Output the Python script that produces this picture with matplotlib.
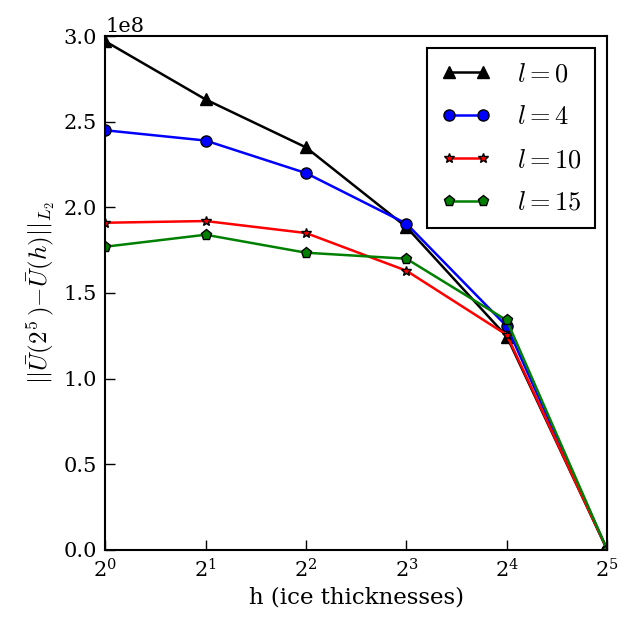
import numpy as np
import matplotlib
matplotlib.use("Agg")
import matplotlib.pyplot as plt

plt.rcParams['font.family'] = 'DejaVu Serif'
plt.rcParams['mathtext.fontset'] = 'cm'

# ice thicknesses
h = [1, 2, 4, 8, 16, 32]

# L2 error norms (x 1e8)
err_l0 = [2.97, 2.63, 2.35, 1.885, 1.245, 0.0]
err_l4 = [2.45, 2.39, 2.20, 1.905, 1.305, 0.0]
err_l10 = [1.91, 1.92, 1.85, 1.63, 1.255, 0.0]
err_l15 = [1.77, 1.84, 1.735, 1.70, 1.34, 0.0]
labels = ['$l=0$', '$l=4$', '$l=10$', '$l=15$']

fig = plt.figure(figsize=(6.26, 6.22), dpi=100)
ax = fig.add_axes([0.168, 0.116, 0.802, 0.826])

scale = 1e8
ax.plot(h, np.array(err_l0) * scale, '-^', color='black', mfc='black', mec='black',
        lw=1.8, ms=8, label=labels[0])
ax.plot(h, np.array(err_l4) * scale, '-o', color='blue', mfc='blue', mec='black',
        lw=1.8, ms=8, label=labels[1])
ax.plot(h, np.array(err_l10) * scale, '-*', color='red', mfc='red', mec='black',
        lw=1.8, ms=7, label=labels[2])
ax.plot(h, np.array(err_l15) * scale, '-p', color='green', mfc='green', mec='black',
        lw=1.8, ms=8, label=labels[3])

ax.set_xscale('log', base=2)
ax.set_xlim(1, 32)
ax.set_ylim(0, 3.0e8)
ax.set_xticks(h)
ax.minorticks_off()
ax.set_yticks(np.arange(0, 3.01e8, 0.5e8))
ax.ticklabel_format(axis='y', style='sci', scilimits=(0, 0))

ax.tick_params(direction='in', length=7, width=1, labelsize=15, pad=6)
for s in ax.spines.values():
    s.set_linewidth(1.5)
ax.yaxis.get_offset_text().set_fontsize(15)

ax.set_xlabel('h (ice thicknesses)', fontsize=16.5)
ax.set_ylabel(r'$||\bar{U}(2^5\,){-}\bar{U}(h)||_{L_2}$', fontsize=18, labelpad=4)

leg = ax.legend(loc='upper right', numpoints=2, fontsize=19, fancybox=False,
                edgecolor='black', framealpha=1, handlelength=1.9, borderpad=0.5,
                labelspacing=0.68, handletextpad=1.0, borderaxespad=0.45)
leg.get_frame().set_linewidth(1.5)

fig.savefig('out.png', dpi=100)
